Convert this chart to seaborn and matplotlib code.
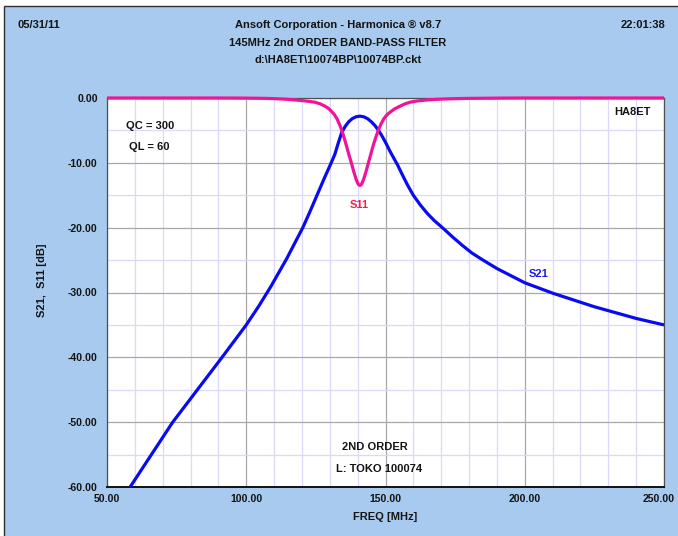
import matplotlib
matplotlib.use("Agg")
import matplotlib.pyplot as plt
from matplotlib.patches import Rectangle
from matplotlib.ticker import MultipleLocator, FormatStrFormatter
from matplotlib.transforms import ScaledTranslation
import pandas as pd
import seaborn as sns

# Frequency response of the 145 MHz 2nd-order band-pass filter
s21_freq = [58.3, 73.6, 91.3, 100, 104.5, 108.8, 114.5, 120.3, 122.9, 125.4,
            127.9, 130.5, 131.8, 133, 134.3, 135.5, 136.7, 138, 139.4, 140.8,
            142.2, 143.6, 145, 146.3, 147.5, 148.8, 150.2, 151.6, 153, 154.3,
            156, 158, 160, 162.5, 165, 167.5, 170.7, 174, 177.5, 181, 185, 190,
            195, 200, 205, 210, 215, 220, 225, 230, 235, 240, 245, 250]
s21_db = [-60, -50, -40, -35, -32.1, -29.1, -24.8, -20, -17.5, -15, -12.5,
          -10, -8.7, -7.0, -5.3, -4.4, -3.7, -3.2, -2.9, -2.8, -2.9, -3.2,
          -3.7, -4.3, -5.0, -5.9, -7.0, -8.2, -9.3, -10.3, -11.8, -13.5, -15,
          -16.5, -17.8, -18.9, -20.1, -21.4, -22.7, -23.9, -25, -26.3, -27.4,
          -28.5, -29.3, -30.1, -30.8, -31.5, -32.2, -32.8, -33.4, -34.0,
          -34.5, -35.0]

s11_freq = [50, 90, 100, 106, 110, 114, 117, 120, 122.5, 124.7, 126.5, 128,
            129.5, 130.7, 131.7, 132.7, 133.6, 134.4, 135.2, 136, 136.9, 137.8,
            138.7, 139.5, 140.2, 140.8, 141.4, 142.1, 142.9, 143.8, 144.7,
            145.6, 146.5, 147.4, 148.4, 149.4, 150.5, 151.6, 153.2, 155, 157,
            158.8, 161.5, 165, 168.5, 172, 177, 182, 190, 200, 250]
s11_db = [0, 0, -0.02, -0.05, -0.1, -0.18, -0.28, -0.4, -0.52, -0.65, -0.9,
          -1.2, -1.6, -2.1, -2.6, -3.3, -4.2, -5.1, -6.2, -7.4, -8.8, -10.1,
          -11.5, -12.6, -13.3, -13.5, -13.3, -12.6, -11.5, -10.1, -8.7, -7.3,
          -6.1, -5.0, -4.0, -3.2, -2.6, -2.2, -1.7, -1.3, -0.9, -0.65, -0.45,
          -0.3, -0.2, -0.14, -0.08, -0.05, -0.02, 0, 0]

x_major = [50, 100, 150, 200, 250]
y_major = [-60, -50, -40, -30, -20, -10, 0]

header_left = "05/31/11"
header_right = "22:01:38"
title_lines = ["Ansoft Corporation - Harmonica \u00ae v8.7",
               "145MHz 2nd ORDER BAND-PASS FILTER",
               r"d:\HA8ET\10074BP\10074BP.ckt"]

df = pd.concat([
    pd.DataFrame({"freq": s21_freq, "dB": s21_db, "trace": "S21"}),
    pd.DataFrame({"freq": s11_freq, "dB": s11_db, "trace": "S11"}),
], ignore_index=True)

sns.set_style("white")
plt.rcParams["font.family"] = ["Liberation Sans", "DejaVu Sans"]
plt.rcParams["axes.unicode_minus"] = False

W, H = 678, 536
BG = "#A8CAEE"
INK = "#141414"

fig = plt.figure(figsize=(W / 100, H / 100), dpi=100, facecolor="white")
fig.patches.append(Rectangle((4 / W, -0.1), 1.2, (H - 6) / H + 0.1,
                             transform=fig.transFigure, facecolor=BG,
                             edgecolor="#303030", lw=1.0, zorder=-5))

L, R, T, B = 107, 664, 98, 487
ax = fig.add_axes([L / W, 1 - B / H, (R - L) / W, (B - T) / H])
ax.set_facecolor("white")

palette = {"S21": "#0A0AF0", "S11": "#F0149A"}
sns.lineplot(data=df, x="freq", y="dB", hue="trace", palette=palette,
             estimator=None, sort=False, lw=2.3, legend=False, ax=ax, zorder=5)
for ln in ax.lines:
    ln.set_clip_on(False)
    ln.set_solid_capstyle("butt")
    ln.set_solid_joinstyle("round")

ax.set_xlim(50, 250)
ax.set_ylim(-60, 0)
ax.set_xticks(x_major)
ax.set_yticks(y_major)
ax.xaxis.set_minor_locator(MultipleLocator(10))
ax.yaxis.set_minor_locator(MultipleLocator(5))
ax.xaxis.set_major_formatter(FormatStrFormatter("%.2f"))
ax.yaxis.set_major_formatter(FormatStrFormatter("%.2f"))

ax.grid(which="major", color="#A8A8A8", lw=0.9, zorder=0)
ax.grid(which="minor", color="#DADAF8", lw=0.9, zorder=0)
ax.set_axisbelow(True)

ax.tick_params(axis="y", which="major", direction="out", length=6, width=0.9,
               color="#505050", pad=0.6, labelsize=7.6, labelcolor=INK)
ax.tick_params(axis="y", which="minor", direction="out", length=3.5, width=0.9,
               color="#C8C8F0")
ax.tick_params(axis="x", which="both", direction="out", length=2.6, width=0.9,
               color="#505050", pad=2.2, labelsize=7.6, labelcolor=INK)
for lab in ax.get_xticklabels() + ax.get_yticklabels():
    lab.set_fontweight("bold")

# keep the last frequency label inside the canvas
fig.canvas.draw()
last = ax.get_xticklabels()[-1]
last.set_transform(last.get_transform()
                   + ScaledTranslation(-5 / 100, 0, fig.dpi_scale_trans))

for side in ["left", "right", "top"]:
    ax.spines[side].set_color("#505050")
    ax.spines[side].set_linewidth(0.9)
ax.spines["bottom"].set_color("#101010")
ax.spines["bottom"].set_linewidth(1.4)

ax.set_xlabel("")
ax.set_ylabel("")

def fx(px):
    return px / W

def fy(py):
    return 1 - py / H

txt = dict(fontsize=8, fontweight="bold", color=INK)
fig.text(fx(17), fy(25), header_left, ha="left", va="center", **txt)
fig.text(fx(665), fy(25), header_right, ha="right", va="center", **txt)
for py, line in zip([25, 43, 60], title_lines):
    fig.text(fx(338), fy(py), line, ha="center", va="center", **txt)
fig.text(fx(385), fy(517), "FREQ [MHz]", ha="center", va="center", **txt)
fig.text(fx(42), fy(280), "S21,  S11 [dB]", ha="center", va="center",
         rotation=90, **txt)

ax.text(65.4, -4.3, "QC = 300", ha="center", va="center", **txt)
ax.text(65.3, -7.5, "QL = 60", ha="center", va="center", **txt)
ax.text(238.5, -2.2, "HA8ET", ha="center", va="center", **txt)
ax.text(146.1, -53.8, "2ND ORDER", ha="center", va="center", **txt)
ax.text(147.7, -57.2, "L: TOKO 100074", ha="center", va="center", **txt)
ax.text(140.5, -16.5, "S11", ha="center", va="center", fontsize=8,
        fontweight="bold", color="#F5204A")
ax.text(204.8, -27.1, "S21", ha="center", va="center", fontsize=8,
        fontweight="bold", color="#1A1AE0")

fig.savefig("out.png", dpi=100, facecolor=fig.get_facecolor())
